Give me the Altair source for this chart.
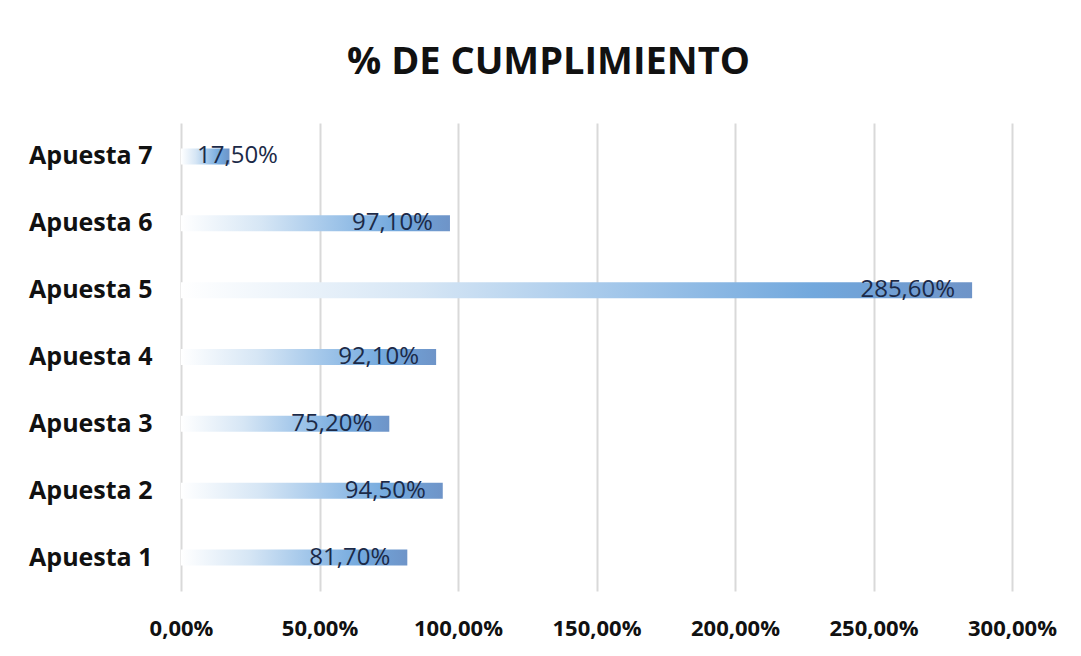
import altair as alt
import pandas as pd

categories = ["Apuesta 1", "Apuesta 2", "Apuesta 3", "Apuesta 4", "Apuesta 5", "Apuesta 6", "Apuesta 7"]
values = [81.7, 94.5, 75.2, 92.1, 285.6, 97.1, 17.5]
x_ticks = [0, 50, 100, 150, 200, 250, 300]
order = list(reversed(categories))

df = pd.DataFrame({"cat": categories, "v": values})

FONT = "Open Sans"

grad = alt.Gradient(
    gradient="linear",
    x1=0, x2=1, y1=0, y2=0,
    stops=[
        alt.GradientStop(offset=0, color="#FFFFFF"),
        alt.GradientStop(offset=0.3, color="#D6E6F5"),
        alt.GradientStop(offset=0.55, color="#A3C7EA"),
        alt.GradientStop(offset=0.8, color="#72A8DD"),
        alt.GradientStop(offset=1, color="#6E94C8"),
    ],
)

base = alt.Chart(df).encode(
    y=alt.Y("cat:N", sort=order, title=None,
            axis=alt.Axis(labelFont=FONT, labelFontSize=25, labelFontWeight="bold",
                          labelColor="#111111", labelPadding=29, domain=False, ticks=False,
                          grid=False)),
)

bars = base.mark_bar(size=16, color=grad).encode(
    x=alt.X("v:Q", scale=alt.Scale(domain=[0, 300], nice=False), title=None,
            axis=alt.Axis(values=x_ticks, labelFont=FONT, labelFontSize=22, labelFontWeight="bold",
                          labelColor="#111111", labelPadding=27, labelFlush=False, labelOverlap=False,
                          domain=False, ticks=False,
                          grid=True, gridColor="#D9D9D9", gridWidth=2,
                          labelExpr="replace(format(datum.value, '.2f'), '.', ',') + '%'")),
)

lab_expr = "replace(format(datum.v, '.2f'), '.', ',') + '%'"

labels_big = base.transform_filter("datum.v >= 30").transform_calculate(
    lab=lab_expr
).mark_text(align="right", baseline="middle", dx=-17, font=FONT, fontSize=24,
            color="#1B2A48").encode(
    x=alt.X("v:Q", title=None), text="lab:N"
)

labels_small = base.transform_filter("datum.v < 30").transform_calculate(
    lab=lab_expr, zero="0"
).mark_text(align="left", baseline="middle", dx=16, font=FONT, fontSize=24,
            color="#1B2A48").encode(
    x=alt.X("zero:Q", title=None), text="lab:N"
)

chart = alt.layer(bars, labels_big, labels_small).properties(
    width=831,
    height=468,
    background="white",
    title=alt.TitleParams("% DE CUMPLIMIENTO", font=FONT, fontSize=38, fontWeight="bold",
                          color="#111111", offset=41, dx=-48, anchor="middle"),
    autosize=alt.AutoSizeParams(type="none"),
    padding={"left": 173, "top": 115, "right": 60, "bottom": 57},
).configure_view(stroke=None, strokeWidth=0)

chart.save("out.html", embed_options={"renderer": "svg", "actions": False})
